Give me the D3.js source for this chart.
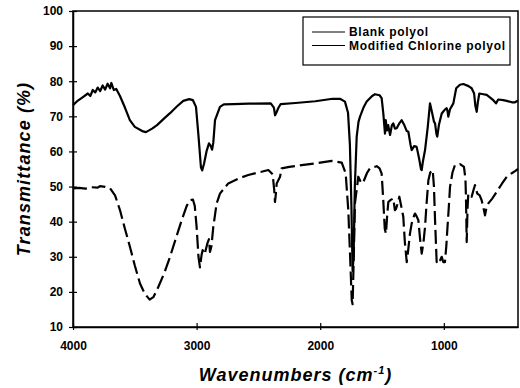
<!DOCTYPE html>
<html>
<head>
<meta charset="utf-8">
<script src="https://cdn.jsdelivr.net/npm/d3@7"></script>
<style>
    body { margin: 0; background: #fff; }
    svg { display: block; font-family: "Liberation Sans", Arial, sans-serif; }
    .tick text { font-weight: bold; font-size: 12px; }
</style>
</head>
<body>
<svg id="chart" width="520" height="388"></svg>
<script>
// Blank polyol (solid line)
var blankWn = [4000, 3960, 3920, 3880, 3860, 3840, 3820, 3800, 3780, 3760, 3740, 3720, 3700, 3690, 3670, 3650,
    3620, 3580, 3540, 3500, 3440, 3410, 3360, 3320, 3260, 3215, 3160, 3108, 3060, 3030, 3005, 2985, 2965, 2955,
    2940, 2920, 2900, 2885, 2875, 2865, 2851, 2811, 2780, 2700, 2580, 2400, 2375, 2365, 2355, 2340, 2320, 2200,
    2040, 1900, 1840, 1800, 1775, 1760, 1748, 1738, 1730, 1720, 1705, 1690, 1678, 1650, 1624, 1580, 1557, 1520,
    1503, 1490, 1476, 1470, 1460, 1450, 1435, 1420, 1409, 1395, 1381, 1360, 1341, 1320, 1300, 1287, 1270, 1260,
    1240, 1220, 1200, 1185, 1179, 1170, 1152, 1130, 1112, 1095, 1080, 1071, 1060, 1053, 1040, 1017, 990, 977,
    970, 964, 950, 923, 900, 870, 842, 800, 775, 755, 745, 734, 725, 713, 680, 653, 620, 600, 578, 560, 520,
    491, 450, 424, 400];
var blankT = [73.2, 74.5, 75.5, 76.5, 75.8, 77.5, 76.8, 78.2, 77.2, 78.8, 77.6, 79.3, 78.0, 79.5, 77.5, 77.8,
    75.8, 72.5, 68.9, 67.0, 65.8, 65.5, 66.5, 67.5, 69.5, 70.9, 72.8, 74.4, 74.9, 74.6, 72.7, 64.5, 55.5, 54.6,
    56.5, 60.0, 62.3, 61.5, 60.5, 62.5, 68.9, 72.7, 73.4, 73.5, 73.6, 73.7, 72.5, 70.3, 71.0, 72.3, 73.5, 73.8,
    74.3, 75.0, 75.0, 74.2, 71.0, 62.0, 45.0, 26.0, 30.0, 50.0, 64.2, 68.5, 69.9, 72.5, 74.2, 75.8, 76.3, 76.0,
    75.2, 71.0, 65.1, 68.9, 66.0, 67.5, 64.7, 67.5, 68.0, 66.5, 66.6, 68.0, 68.9, 67.5, 65.8, 65.6, 62.0, 60.4,
    61.5, 61.3, 58.0, 55.0, 54.7, 57.0, 60.4, 67.0, 73.7, 71.0, 68.5, 68.0, 65.0, 64.2, 67.5, 70.8, 72.0, 72.3,
    71.5, 69.9, 72.0, 73.7, 78.0, 79.0, 79.2, 78.6, 78.0, 76.5, 73.0, 71.3, 74.0, 76.5, 76.3, 76.1, 75.2, 74.6,
    73.7, 74.8, 74.6, 74.4, 74.0, 74.0, 74.5];

// Modified Chlorine polyol (dashed line)
var modWn = [4000, 3950, 3900, 3850, 3800, 3782, 3740, 3700, 3660, 3620, 3580, 3539, 3500, 3458, 3420, 3380,
    3350, 3310, 3260, 3215, 3170, 3121, 3080, 3053, 3030, 3015, 3000, 2985, 2973, 2960, 2951, 2935, 2913, 2900,
    2892, 2880, 2865, 2838, 2811, 2744, 2660, 2582, 2500, 2420, 2385, 2372, 2366, 2360, 2352, 2325, 2312, 2250,
    2150, 2000, 1907, 1826, 1794, 1773, 1759, 1745, 1738, 1730, 1719, 1700, 1692, 1675, 1665, 1651, 1620, 1597,
    1543, 1520, 1503, 1490, 1478, 1468, 1458, 1449, 1430, 1409, 1396, 1387, 1375, 1360, 1345, 1328, 1315, 1300,
    1288, 1274, 1260, 1252, 1240, 1233, 1220, 1206, 1192, 1179, 1165, 1152, 1140, 1125, 1110, 1090, 1080, 1071,
    1058, 1045, 1030, 1017, 1005, 991, 980, 972, 960, 950, 930, 910, 869, 837, 825, 821, 815, 808, 802, 790,
    775, 760, 748, 738, 729, 710, 694, 680, 667, 655, 640, 610, 572, 530, 491, 450, 424, 400];
var modT = [49.5, 49.6, 49.4, 49.8, 49.7, 50.1, 49.9, 49.5, 47.5, 43.3, 38.0, 32.8, 27.5, 22.4, 19.5, 17.8,
    18.5, 21.4, 25.5, 30.0, 35.0, 40.4, 44.5, 46.1, 46.3, 44.5, 38.5, 30.0, 27.0, 30.5, 31.9, 30.7, 33.8, 35.0,
    31.4, 33.0, 38.5, 45.2, 48.0, 50.9, 52.3, 53.3, 54.0, 54.7, 53.5, 49.0, 45.6, 47.5, 50.9, 52.8, 55.2, 55.6,
    56.1, 56.8, 57.3, 56.8, 53.7, 43.3, 30.9, 17.6, 16.5, 28.0, 45.2, 50.5, 52.8, 51.5, 50.9, 51.3, 54.0, 55.2,
    55.8, 55.2, 53.7, 46.1, 38.0, 36.6, 42.0, 45.6, 46.2, 46.6, 43.3, 43.6, 45.0, 47.1, 44.5, 41.4, 34.0, 28.5,
    32.0, 36.6, 39.5, 40.4, 41.8, 42.3, 41.5, 40.4, 35.0, 30.9, 34.0, 38.5, 45.0, 51.8, 54.0, 54.7, 50.0, 40.4,
    28.5, 29.5, 29.0, 30.0, 28.5, 28.5, 33.0, 37.6, 44.0, 49.9, 54.0, 56.1, 56.4, 55.6, 52.0, 47.1, 34.2, 44.0,
    48.0, 47.5, 47.1, 49.0, 50.4, 49.0, 48.0, 47.5, 46.1, 44.0, 41.8, 44.0, 45.2, 46.5, 48.5, 50.8, 52.8, 53.8,
    54.4, 55.0];

var xTicks = [4000, 3000, 2000, 1000];
var yTicks = [10, 20, 30, 40, 50, 60, 70, 80, 90, 100];
var seriesNames = ["Blank polyol", "Modified Chlorine polyol"];

(function() {
    var svg = d3.select("#chart");

    // plot area
    var pLeft = 73, pRight = 518, pTop = 11, pBottom = 327;

    var x = d3.scaleLinear().domain([4000, 400]).range([pLeft, pRight]);
    var y = d3.scaleLinear().domain([10, 100]).range([pBottom, pTop]);

    // frame
    svg.append("rect")
        .attr("x", pLeft).attr("y", pTop)
        .attr("width", pRight - pLeft).attr("height", pBottom - pTop)
        .attr("fill", "none").attr("stroke", "#000").attr("stroke-width", 1.5);

    // axes, ticks cross the line
    var yAxis = svg.append("g")
        .attr("transform", "translate(" + pLeft + ",0)")
        .call(d3.axisLeft(y).tickValues(yTicks).tickSizeInner(4).tickSizeOuter(0).tickPadding(6));
    yAxis.selectAll(".tick line").attr("x2", 4).attr("x1", -4).attr("stroke-width", 1.2);

    var xAxis = svg.append("g")
        .attr("transform", "translate(0," + pBottom + ")")
        .call(d3.axisBottom(x).tickValues(xTicks).tickFormat(d3.format("d"))
            .tickSizeInner(4).tickSizeOuter(0).tickPadding(10));
    xAxis.selectAll(".tick line").attr("y1", -4).attr("y2", 3).attr("stroke-width", 1.2);

    svg.selectAll(".domain").attr("stroke", "#000").attr("stroke-width", 1.5);
    svg.selectAll(".tick text").attr("fill", "#000");

    // lines
    var line = d3.line()
        .x(function(d) { return x(d[0]); })
        .y(function(d) { return y(d[1]); });

    svg.append("path")
        .datum(d3.zip(modWn, modT))
        .attr("d", line)
        .attr("fill", "none")
        .attr("stroke", "#000")
        .attr("stroke-width", 2.2)
        .attr("stroke-linejoin", "round")
        .attr("stroke-dasharray", "14,5");

    svg.append("path")
        .datum(d3.zip(blankWn, blankT))
        .attr("d", line)
        .attr("fill", "none")
        .attr("stroke", "#000")
        .attr("stroke-width", 2.2)
        .attr("stroke-linejoin", "round");

    // legend
    var legend = svg.append("g");
    legend.append("rect")
        .attr("x", 303).attr("y", 17)
        .attr("width", 207).attr("height", 48)
        .attr("fill", "#fff").attr("stroke", "#000").attr("stroke-width", 1.2);

    seriesNames.forEach(function(name, i) {
        var ly = 32 + i * 13.5;
        legend.append("line")
            .attr("x1", 312).attr("x2", 345)
            .attr("y1", ly).attr("y2", ly)
            .attr("stroke", "#000").attr("stroke-width", 1);
        legend.append("text")
            .attr("x", 349).attr("y", ly + 4)
            .attr("font-size", 12)
            .attr("font-weight", "bold")
            .attr("letter-spacing", 0.7)
            .text(name);
    });

    // axis titles
    var xt = svg.append("text")
        .attr("x", (pLeft + pRight) / 2).attr("y", 381)
        .attr("text-anchor", "middle")
        .attr("font-size", 18).attr("font-weight", "bold").attr("font-style", "italic")
        .attr("letter-spacing", 1);
    xt.append("tspan").text("Wavenumbers (cm");
    xt.append("tspan").attr("font-size", 11).attr("dy", -7).text("-1");
    xt.append("tspan").attr("dy", 7).text(")");

    svg.append("text")
        .attr("transform", "translate(30,169) rotate(-90)")
        .attr("text-anchor", "middle")
        .attr("font-size", 18).attr("font-weight", "bold").attr("font-style", "italic")
        .attr("letter-spacing", 1.1)
        .text("Transmittance (%)");
})();
</script>
</body>
</html>
